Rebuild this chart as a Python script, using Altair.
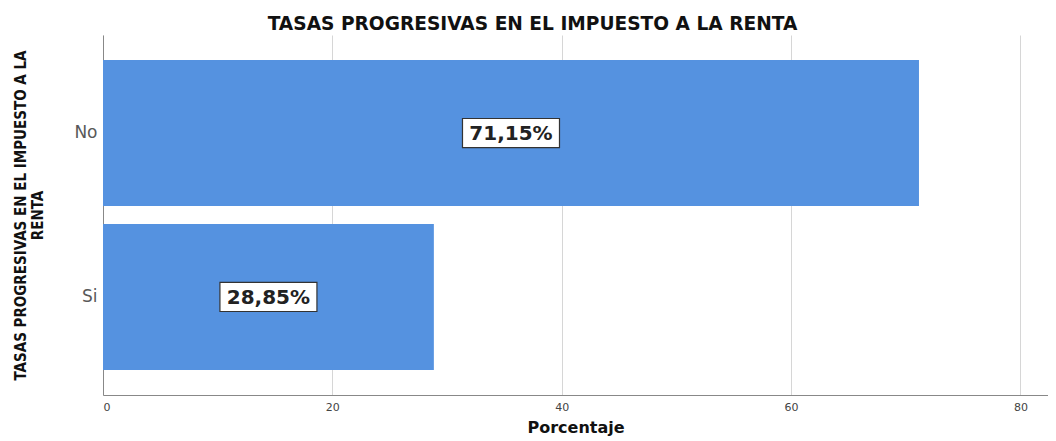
import altair as alt
import pandas as pd

categories = ["No", "Si"]
values = [71.15, 28.85]
labels = ["71,15%", "28,85%"]
x_ticks = [0, 20, 40, 60, 80]
chart_title = "TASAS PROGRESIVAS EN EL IMPUESTO A LA RENTA"

df = pd.DataFrame({"cat": categories, "val": values, "lab": labels})
df["mid"] = df["val"] / 2

BAR = "#5592e0"
FONT = "DejaVu Sans"

y_enc = alt.Y(
    "cat:N",
    sort=categories,
    scale=alt.Scale(paddingInner=0.11, paddingOuter=0.153),
    axis=alt.Axis(
        title=["TASAS PROGRESIVAS EN EL IMPUESTO A LA", "RENTA"],
        titleFont="Liberation Sans Narrow, DejaVu Sans Condensed, Liberation Sans",
        titleFontSize=15,
        titleFontWeight="bold",
        titleColor="#111",
        titleLineHeight=17,
        titlePadding=28,
        labelFont=FONT,
        labelFontSize=17,
        labelColor="#595959",
        labelPadding=6,
        ticks=False,
        domain=True,
        domainColor="#888",
        grid=False,
    ),
)

x_scale = alt.Scale(domain=[0, 82.4], nice=False, zero=True)

bars = alt.Chart(df).mark_bar(color=BAR).encode(
    x=alt.X(
        "val:Q",
        scale=x_scale,
        axis=alt.Axis(
            orient="bottom",
            values=x_ticks,
            title="Porcentaje",
            titleFont=FONT,
            titleFontSize=16,
            titleFontWeight="bold",
            titleColor="#111",
            titlePadding=7,
            labelFont=FONT,
            labelFontSize=11,
            labelColor="#444",
            labelPadding=6,
            ticks=False,
            domainColor="#888",
            grid=True,
            gridColor="#d6d6d6",
        ),
    ),
    y=y_enc,
)

boxes = alt.Chart(df).mark_point(
    shape="M-1,-0.3L1,-0.3L1,0.3L-1,0.3Z",
    size=9409,
    filled=True,
    fill="white",
    stroke="#333",
    strokeWidth=1.2,
    opacity=1,
).encode(
    x=alt.X(
        "mid:Q",
        scale=x_scale,
        axis=alt.Axis(
            orient="top",
            labels=False,
            ticks=False,
            domain=False,
            grid=False,
            title=chart_title,
            titleFont=FONT,
            titleFontSize=18.6,
            titleFontWeight="bold",
            titleColor="#111",
            titleX=429,
            titleY=-6,
            titleAlign="center",
            titleBaseline="alphabetic",
        ),
    ),
    y=alt.Y("cat:N", sort=categories),
)

texts = alt.Chart(df).mark_text(
    font=FONT, fontSize=20, fontWeight="bold", color="#222", align="center", baseline="middle", dy=1
).encode(x=alt.X("mid:Q", scale=x_scale, axis=None), y=alt.Y("cat:N", sort=categories), text="lab:N")

chart = (
    alt.layer(bars, boxes, texts)
    .resolve_axis(x="independent")
    .properties(
        width=945,
        height=360,
        autosize=alt.AutoSizeParams(type="none"),
        padding={"left": 95, "top": 27, "right": 0, "bottom": 46},
    )
    .configure_view(stroke=None)
)

chart.save("out.html", embed_options={"renderer": "svg", "actions": False})
